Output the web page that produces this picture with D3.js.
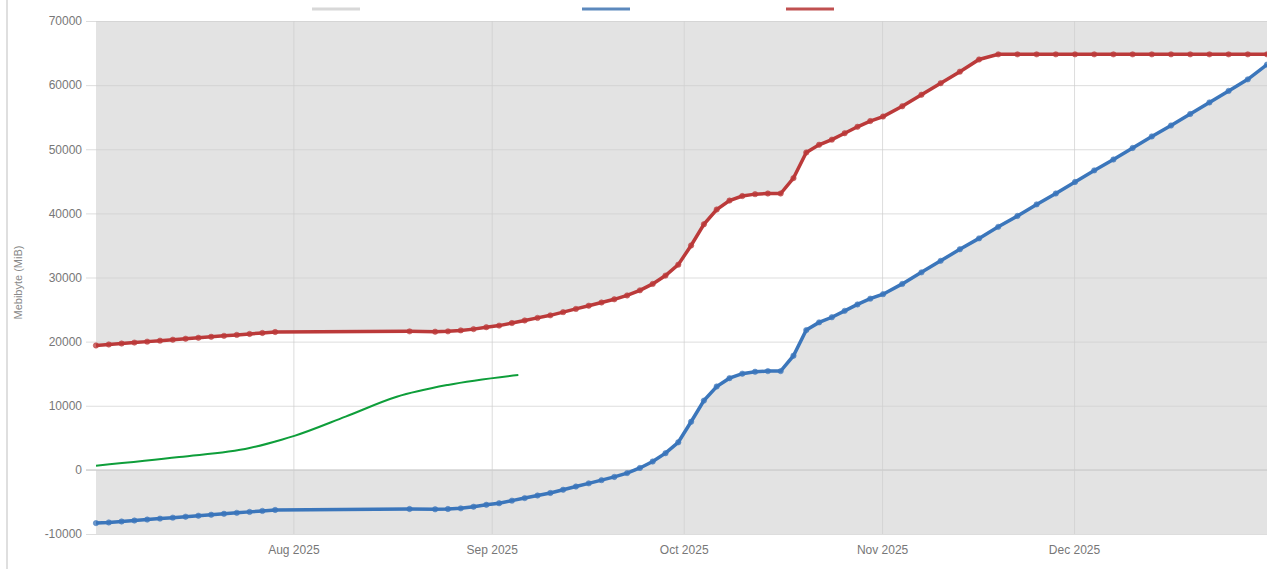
<!DOCTYPE html>
<html>
<head>
<meta charset="utf-8">
<script src="https://cdn.jsdelivr.net/npm/d3@7"></script>
<style>
  body { margin: 0; background: #fff; }
  svg { display: block; font-family: "Liberation Sans", Arial, sans-serif; }
</style>
</head>
<body>
<div class="chart"></div>
<script>
// data
const dates = [
  '2025-07-01','2025-07-03','2025-07-05','2025-07-07','2025-07-09','2025-07-11','2025-07-13','2025-07-15',
  '2025-07-17','2025-07-19','2025-07-21','2025-07-23','2025-07-25','2025-07-27','2025-07-29',
  '2025-08-19','2025-08-23','2025-08-25','2025-08-27','2025-08-29','2025-08-31',
  '2025-09-02','2025-09-04','2025-09-06','2025-09-08','2025-09-10','2025-09-12','2025-09-14','2025-09-16',
  '2025-09-18','2025-09-20','2025-09-22','2025-09-24','2025-09-26','2025-09-28','2025-09-30',
  '2025-10-02','2025-10-04','2025-10-06','2025-10-08','2025-10-10','2025-10-12','2025-10-14','2025-10-16',
  '2025-10-18','2025-10-20','2025-10-22','2025-10-24','2025-10-26','2025-10-28','2025-10-30',
  '2025-11-01','2025-11-04','2025-11-07','2025-11-10','2025-11-13','2025-11-16','2025-11-19','2025-11-22',
  '2025-11-25','2025-11-28','2025-12-01','2025-12-04','2025-12-07','2025-12-10','2025-12-13','2025-12-16',
  '2025-12-19','2025-12-22','2025-12-25','2025-12-28','2025-12-31'
];
const lowerValues = [
  -8300,-8200,-8050,-7900,-7750,-7600,-7450,-7300,
  -7150,-7000,-6850,-6700,-6550,-6400,-6250,
  -6100,-6150,-6100,-6000,-5750,-5450,
  -5200,-4800,-4400,-4000,-3600,-3100,-2600,-2100,
  -1600,-1100,-500,300,1300,2600,4300,
  7500,10800,13000,14300,15000,15300,15400,15400,
  17800,21800,23000,23800,24800,25800,26700,
  27400,29000,30800,32600,34400,36100,37900,39600,
  41400,43100,44900,46700,48400,50200,52000,53700,
  55500,57300,59100,60900,63200
];
const upperValues = [
  19400,19550,19700,19850,20000,20150,20300,20450,
  20600,20750,20900,21050,21200,21350,21500,
  21600,21550,21600,21750,21950,22250,
  22500,22900,23300,23700,24100,24600,25100,25600,
  26100,26600,27200,28000,29000,30300,32000,
  35000,38300,40600,42000,42700,43000,43100,43100,
  45500,49500,50700,51500,52500,53500,54400,
  55100,56700,58500,60300,62100,64000,64800,64800,
  64800,64800,64800,64800,64800,64800,64800,64800,
  64800,64800,64800,64800,64800
];
const trendDates = ['2025-07-01','2025-07-14','2025-07-25','2025-07-30','2025-08-01','2025-08-09','2025-08-17','2025-08-25','2025-09-05'];
const trendValues = [650,2000,3400,4700,5300,8300,11400,13250,14800];

const yTicks = [-10000,0,10000,20000,30000,40000,50000,60000,70000];
const xTickLabels = ['2025-08-01','2025-09-01','2025-10-01','2025-11-01','2025-12-01'];

const parseDate = d3.timeParse('%Y-%m-%d');

const svg_width = 1267;
const svg_height = 569;
const margin = {top:21, right:0, bottom:35, left:96};

const svg = d3.select('.chart').append('svg')
  .attr('width', svg_width).attr('height', svg_height);

const xScale = d3.scaleTime()
  .domain([parseDate('2025-07-01'), parseDate('2025-12-31')])
  .range([margin.left, svg_width - margin.right]);
const yScale = d3.scaleLinear()
  .domain([-10000, 70000])
  .range([svg_height - margin.bottom, margin.top]);

const band = dates.map((d,i) => ({date: parseDate(d), low: lowerValues[i], high: upperValues[i]}));
const trend = trendDates.map((d,i) => ({date: parseDate(d), value: trendValues[i]}));

// left frame line
svg.append('line').attr('x1',7).attr('x2',7).attr('y1',0).attr('y2',svg_height)
  .style('stroke','#d4d4d4').style('stroke-width',1.5);

// gray outside the band
const topArea = d3.area().x(d=>xScale(d.date)).y0(margin.top).y1(d=>yScale(d.high));
const bottomArea = d3.area().x(d=>xScale(d.date))
  .y0(yScale(-10000)).y1(d=>yScale(Math.max(0, d.low)));
svg.append('path').datum(band).attr('d',topArea).style('fill','#e3e3e3');
svg.append('path').datum(band).attr('d',bottomArea).style('fill','#e3e3e3');

// grid
const yAxis = d3.axisLeft(yScale).tickValues(yTicks).tickFormat(d => String(d))
  .tickSizeInner(-(xScale.range()[1]-margin.left) - 10).tickSizeOuter(0).tickPadding(4);
const yAxisDraw = svg.append('g').attr('transform',`translate(${margin.left-10},0)`).call(yAxis);
yAxisDraw.select('.domain').remove();
yAxisDraw.selectAll('line').style('stroke','#cfcfcf').style('stroke-opacity',0.7);
yAxisDraw.selectAll('text').style('fill','#777').style('font-size','12px');

const xAxis = d3.axisBottom(xScale).tickValues(xTickLabels.map(parseDate))
  .tickFormat(d3.timeFormat('%b %Y'))
  .tickSizeInner(-(yScale(-10000)-margin.top)).tickSizeOuter(0).tickPadding(11);
const xAxisDraw = svg.append('g').attr('transform',`translate(-1,${yScale(-10000)})`).call(xAxis);
xAxisDraw.select('.domain').remove();
xAxisDraw.selectAll('line').style('stroke','#cfcfcf').style('stroke-opacity',0.7);
xAxisDraw.selectAll('text').style('fill','#777').style('font-size','12px');

// zero line slightly stronger
svg.append('line').attr('x1',margin.left-10).attr('x2',xScale.range()[1])
  .attr('y1',yScale(0)).attr('y2',yScale(0)).style('stroke','#cccccc');

// y label
svg.append('text').attr('transform',`translate(22,${(margin.top+yScale(-10000))/2 + 5}) rotate(-90)`)
  .attr('text-anchor','middle').style('fill','#888').style('font-size','11px')
  .text('Mebibyte (MiB)');

// series
const series = [
  {key:'low', color:'#3b76bb'},
  {key:'high', color:'#bb3a3a'}
];
series.forEach(s => {
  const line = d3.line().x(d=>xScale(d.date)).y(d=>yScale(d[s.key]));
  svg.append('path').datum(band).attr('d',line)
    .style('fill','none').style('stroke',s.color).style('stroke-width',3.5);
  svg.selectAll('.dot-'+s.key).data(band).enter().append('circle')
    .attr('class','dot-'+s.key)
    .attr('cx',d=>xScale(d.date)).attr('cy',d=>yScale(d[s.key])).attr('r',2.7)
    .style('fill',s.color).style('fill-opacity',0.75)
    .style('stroke',s.color).style('stroke-opacity',0.5).style('stroke-width',1);
});

const trendLine = d3.line().x(d=>xScale(d.date)).y(d=>yScale(d.value)).curve(d3.curveMonotoneX);
svg.append('path').datum(trend).attr('d',trendLine)
  .style('fill','none').style('stroke','#0e9e3a').style('stroke-width',2);

// legend keys
const legend = [
  {x:312, color:'#d8d8d8'},
  {x:582, color:'#5c89bd'},
  {x:786, color:'#c05050'}
];
svg.selectAll('.legend').data(legend).enter().append('line')
  .attr('class','legend')
  .attr('x1',d=>d.x).attr('x2',d=>d.x+48).attr('y1',9).attr('y2',9)
  .style('stroke',d=>d.color).style('stroke-width',3);
</script>
</body>
</html>
